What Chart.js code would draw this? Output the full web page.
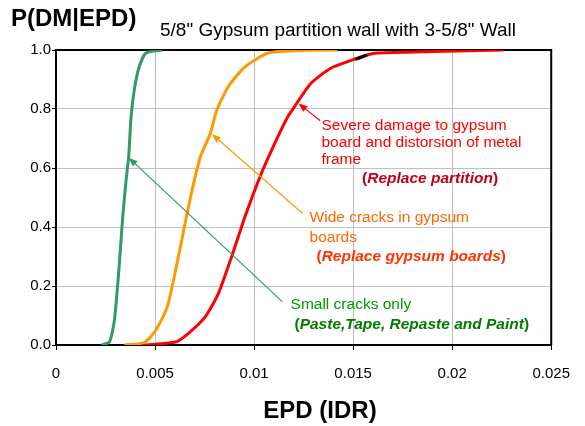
<!DOCTYPE html>
<html>
<head>
<meta charset="utf-8">
<script src="https://cdn.jsdelivr.net/npm/chart.js@4.4.0/dist/chart.umd.min.js"></script>
<style>
body { margin: 0; background: #fff; }
</style>
</head>
<body>
<canvas id="fragility" width="585" height="426"></canvas>
<script>
// fragility curves (x = EPD as IDR, y = P(DM|EPD))
var smallX = [0.00229, 0.0027, 0.00295, 0.0032, 0.00337, 0.00354, 0.00367, 0.00379, 0.00395, 0.0042, 0.00454, 0.00537];
var smallY = [0, 0.01, 0.085, 0.277, 0.435, 0.56, 0.64, 0.774, 0.864, 0.943, 0.99, 1.0];

var wideX = [0.00345, 0.00445, 0.00504, 0.00562, 0.00604, 0.00645, 0.00687, 0.00729, 0.00779, 0.00812, 0.0087, 0.00954, 0.0107, 0.0122, 0.0142];
var wideY = [0, 0.008, 0.05, 0.13, 0.254, 0.39, 0.525, 0.638, 0.717, 0.797, 0.876, 0.943, 0.99, 0.998, 1.0];

var severeX = [0.00445, 0.00604, 0.0067, 0.00754, 0.0082, 0.00887, 0.00954, 0.01037, 0.0112, 0.0117, 0.01204, 0.01287, 0.01387, 0.01504, 0.0157, 0.0162, 0.019, 0.02258];
var severeY = [0, 0.01, 0.04, 0.096, 0.175, 0.3, 0.435, 0.582, 0.706, 0.774, 0.808, 0.887, 0.938, 0.968, 0.983, 0.99, 0.995, 1.0];

// short black piece on the red curve
var blackX = [0.01512, 0.0157];
var blackY = [0.968, 0.983];

var xTicks = [0, 0.005, 0.01, 0.015, 0.02, 0.025];
var yTicks = [0, 0.2, 0.4, 0.6, 0.8, 1.0];

var chartTitle = '5/8" Gypsum partition wall with 3-5/8" Wall';
var yTitle = 'P(DM|EPD)';
var xTitle = 'EPD (IDR)';

var severeText = ['Severe damage to gypsum', 'board and distorsion of metal', 'frame'];
var severeAction = 'Replace partition';
var wideText = ['Wide cracks in gypsum', 'boards'];
var wideAction = 'Replace gypsum boards';
var smallText = ['Small cracks only'];
var smallAction = 'Paste,Tape, Repaste and Paint';

var FONT = '"Liberation Sans", Arial, sans-serif';

function pts(xs, ys) {
    return xs.map(function (x, i) { return { x: x, y: ys[i] }; });
}

function curve(xs, ys, color, order) {
    return {
        data: pts(xs, ys),
        showLine: true,
        borderColor: color,
        backgroundColor: color,
        borderWidth: 3,
        pointRadius: 0,
        tension: 0.2,
        order: order
    };
}

function drawRuns(c, x, y, runs) {
    c.textAlign = 'left';
    c.textBaseline = 'middle';
    runs.forEach(function (r) {
        c.font = r[1];
        c.fillStyle = r[2];
        c.fillText(r[0], x, y);
        x += c.measureText(r[0]).width;
    });
}

function arrow(c, x1, y1, x2, y2, color) {
    var ang = Math.atan2(y2 - y1, x2 - x1), len = 9, half = 3.5;
    c.strokeStyle = color;
    c.fillStyle = color;
    c.lineWidth = 1.2;
    c.beginPath();
    c.moveTo(x1, y1);
    c.lineTo(x2 - Math.cos(ang) * len * 0.8, y2 - Math.sin(ang) * len * 0.8);
    c.stroke();
    c.beginPath();
    c.moveTo(x2, y2);
    c.lineTo(x2 - Math.cos(ang) * len - Math.sin(ang) * half, y2 - Math.sin(ang) * len + Math.cos(ang) * half);
    c.lineTo(x2 - Math.cos(ang) * len + Math.sin(ang) * half, y2 - Math.sin(ang) * len - Math.cos(ang) * half);
    c.closePath();
    c.fill();
}

var decor = {
    id: 'decor',
    beforeDatasetsDraw: function (chart) {
        var a = chart.chartArea, c = chart.ctx;
        c.save();
        c.strokeStyle = '#000';
        c.lineWidth = 2;
        c.beginPath();
        c.moveTo(a.left, a.top);
        c.lineTo(a.right, a.top);
        c.lineTo(a.right, a.bottom);
        c.stroke();
        c.restore();
    },
    afterDraw: function (chart) {
        var c = chart.ctx, xs = chart.scales.x, ys = chart.scales.y;
        function px(v) { return xs.getPixelForValue(v); }
        function py(v) { return ys.getPixelForValue(v); }
        var reg = '15.5px ' + FONT, bold = 'bold 15.5px ' + FONT, bi = 'italic bold 15.5px ' + FONT;
        c.save();

        drawRuns(c, 11, 19, [[yTitle, 'bold 24px ' + FONT, '#000']]);
        drawRuns(c, 160, 31, [[chartTitle, '19px ' + FONT, '#000']]);
        c.font = 'bold 24px ' + FONT;
        drawRuns(c, 320 - c.measureText(xTitle).width / 2, 411, [[xTitle, 'bold 24px ' + FONT, '#000']]);

        // severe damage
        arrow(c, px(0.01334), py(0.760), px(0.01224), py(0.819), '#ff0000');
        var sy = [0.745, 0.686, 0.627];
        severeText.forEach(function (t, i) { drawRuns(c, px(0.0134), py(sy[i]), [[t, reg, '#ff0000']]); });
        drawRuns(c, px(0.01545), py(0.564), [['(', bold, '#c00018'], [severeAction, bi, '#c00018'], [')', bold, '#c00018']]);

        // wide cracks
        arrow(c, px(0.01245), py(0.446), px(0.00787), py(0.715), '#ff9900');
        var wy = [0.43, 0.364];
        wideText.forEach(function (t, i) { drawRuns(c, px(0.0128), py(wy[i]), [[t, reg, '#ff6600']]); });
        drawRuns(c, px(0.01315), py(0.3), [['(', bold, '#ff3300'], [wideAction, bi, '#ff3300'], [')', bold, '#ff3300']]);

        // small cracks
        arrow(c, px(0.01142), py(0.147), px(0.00367), py(0.635), '#339966');
        drawRuns(c, px(0.01184), py(0.137), [[smallText[0], reg, '#009900']]);
        drawRuns(c, px(0.01204), py(0.069), [['(', bold, '#007a00'], [smallAction, bi, '#007a00'], [')', bold, '#007a00']]);

        c.restore();
    }
};

function gridColor(ctx) {
    var v = ctx.tick ? ctx.tick.value : null;
    if (v === null) return '#c0c0c0';
    return (Math.abs(v) < 1e-9 || Math.abs(v - ctx.scale.max) < 1e-9) ? 'rgba(0,0,0,0)' : '#c0c0c0';
}

var ctx = document.getElementById('fragility').getContext('2d');
var fragChart = new Chart(ctx, {
    type: 'scatter',
    data: {
        datasets: [
            curve(smallX, smallY, '#339966', 1),
            curve(wideX, wideY, '#ff9900', 1),
            curve(severeX, severeY, '#ff0000', 1),
            curve(blackX, blackY, '#000000', 0)
        ]
    },
    options: {
        responsive: false,
        animation: false,
        layout: { padding: { left: 0, top: 50, right: 30, bottom: 0 } },
        plugins: {
            legend: { display: false },
            tooltip: { enabled: false }
        },
        scales: {
            x: {
                type: 'linear',
                min: xTicks[0],
                max: xTicks[xTicks.length - 1],
                afterBuildTicks: function (s) { s.ticks = xTicks.map(function (v) { return { value: v }; }); },
                afterFit: function (s) { s.height = 81; },
                ticks: {
                    color: '#000',
                    padding: 15,
                    maxRotation: 0,
                    font: { family: FONT, size: 15 },
                    callback: function (v) { return String(Number(v.toFixed(3))); }
                },
                grid: { color: gridColor, tickColor: '#000', tickLength: 5, lineWidth: 1 },
                border: { color: '#000', width: 2 }
            },
            y: {
                type: 'linear',
                min: yTicks[0],
                max: yTicks[yTicks.length - 1],
                afterBuildTicks: function (s) { s.ticks = yTicks.map(function (v) { return { value: v }; }); },
                afterFit: function (s) { s.width = 56; },
                ticks: {
                    color: '#000',
                    padding: 1,
                    font: { family: FONT, size: 15 },
                    callback: function (v) { return v.toFixed(1); }
                },
                grid: { color: gridColor, tickColor: '#000', tickLength: 4, lineWidth: 1 },
                border: { color: '#000', width: 2 }
            }
        }
    },
    plugins: [decor]
});
</script>
</body>
</html>
